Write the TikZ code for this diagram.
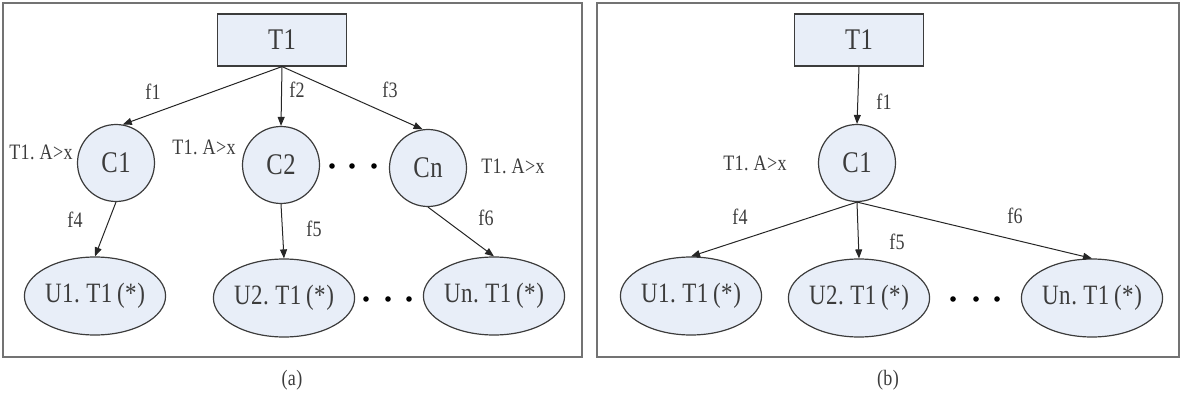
\documentclass[tikz,border=0pt]{standalone}
\usepackage{fontspec}
\setmainfont{Liberation Serif}[FakeStretch=0.82,LetterSpace=2]
\usepackage{tikz}
\usetikzlibrary{arrows.meta,shapes.geometric}
\definecolor{nodefill}{RGB}{232,238,248}
\definecolor{inkgray}{RGB}{60,60,60}

\begin{document}
\begin{tikzpicture}[x=1pt,y=-1pt,>={Triangle[length=9pt,width=7pt]},
every node/.style={text=inkgray},
tbl/.style={draw=inkgray, line width=1.2pt, fill=nodefill, minimum width=129pt, minimum height=52pt, font=\fontsize{30}{30}\selectfont},
cond/.style={draw=inkgray, line width=1.2pt, circle, fill=nodefill, minimum size=77pt, inner sep=0pt, font=\fontsize{30}{30}\selectfont},
res/.style={draw=inkgray, line width=1.2pt, ellipse, fill=nodefill, minimum width=139pt, minimum height=78pt, inner sep=0pt, font=\fontsize{28}{28}\selectfont},
lab/.style={font=\fontsize{22}{22}\selectfont},
panel/.style={draw=black!55, line width=1.8pt},
edge/.style={->, line width=1pt, black!85}]
\useasboundingbox (0,0) rectangle (1191,406);
% frames
\draw[panel] (3,3) rectangle (582,357);
\draw[panel] (597,3) rectangle (1179,357);
\node[lab] (capa) at (292,380) {(a)};
\node[lab] (capb) at (888,380) {(b)};

% ---- (a) ----
\node[tbl] (ta) at (282,40) {T1};
\node[cond] (c1a) at (116,163) {C1};
\node[cond] (c2a) at (281,165) {C2};
\node[cond] (cna) at (428,168) {Cn};
\node[res] (u1a) at (95,296) {U1.~T1\,(*)};
\node[res] (u2a) at (284,298) {U2.~T1\,(*)};
\node[res] (una) at (494,296) {Un.~T1\,(*)};
\draw[edge] (ta.south) -- (c1a.80);
\draw[edge] (ta.south) -- (c2a.north);
\draw[edge] (ta.south) -- (cna.98);
\draw[edge] (c1a.south) -- (u1a.north);
\draw[edge] (c2a.south) -- (u2a.north);
\draw[edge] (cna.south) -- (una.north);
\node[lab] (f1a) at (153,92) {f1};
\node[lab] (f2a) at (297,90) {f2};
\node[lab] (f3a) at (390,90) {f3};
\node[lab] (f4a) at (75,220) {f4};
\node[lab] (f5a) at (314,229) {f5};
\node[lab] (f6a) at (486,218) {f6};
\node[lab] (k1a) at (41,152) {T1.~A>x};
\node[lab] (k2a) at (204,147) {T1.~A>x};
\node[lab] (kna) at (513,166) {T1.~A>x};
\foreach \dx in {332,352,374} \fill[black] (\dx,166) circle (2.8pt);
\foreach \dx in {366,388,409} \fill[black] (\dx,299) circle (2.8pt);

% ---- (b) ----
\node[tbl] (tb) at (859,40) {T1};
\node[cond] (c1b) at (857,163) {C1};
\node[res] (u1b) at (691,296) {U1.~T1\,(*)};
\node[res] (u2b) at (859,298) {U2.~T1\,(*)};
\node[res] (unb) at (1092,298) {Un.~T1\,(*)};
\draw[edge] (tb.south) -- (c1b.north);
\draw[edge] (c1b.south) -- (u1b.north);
\draw[edge] (c1b.south) -- (u2b.north);
\draw[edge] (c1b.south) -- (unb.north);
\node[lab] (f1b) at (884,102) {f1};
\node[lab] (f4b) at (740,217) {f4};
\node[lab] (f5b) at (897,242) {f5};
\node[lab] (f6b) at (1015,216) {f6};
\node[lab] (k1b) at (755,163) {T1.~A>x};
\foreach \dx in {953,976,997} \fill[black] (\dx,299) circle (2.8pt);
\end{tikzpicture}
\end{document}
